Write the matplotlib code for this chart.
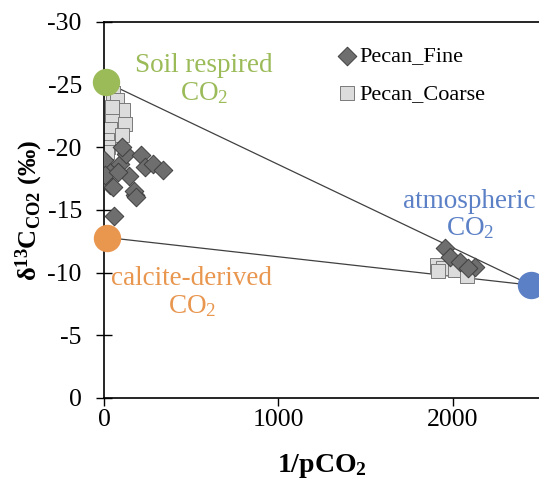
import numpy as np
import matplotlib
matplotlib.use("Agg")
import matplotlib.pyplot as plt

plt.rcParams['font.family'] = ['Liberation Serif', 'DejaVu Serif']
plt.rcParams['mathtext.fontset'] = 'custom'
plt.rcParams['mathtext.rm'] = 'Liberation Serif'
plt.rcParams['mathtext.bf'] = 'Liberation Serif:bold'
plt.rcParams['mathtext.it'] = 'Liberation Serif:italic'
plt.rcParams['axes.unicode_minus'] = False

# Pecan_Fine (diamonds)
fine_x = [57, 178, 170, 183, 143, 34, 52, 23, 92, 126, 212, 235, 281, 338, 0, 6, 80, 103,
          1954, 1983, 2040, 2126, 2086]
fine_y = [-14.5, -16.2, -16.5, -16.0, -17.7, -17.0, -16.8, -18.2, -18.7, -19.5, -19.4, -18.4,
          -18.7, -18.2, -19.0, -17.8, -18.0, -20.0,
          -12.0, -11.25, -10.85, -10.45, -10.4]

# Pecan_Coarse (squares)
coarse_x = [52, 75, 109, 46, 120, 34, 103, 17, 23, 17, 46,
            1908, 1943, 2011, 2080, 1914]
coarse_y = [-24.3, -23.8, -23.0, -22.6, -21.9, -21.5, -21.0, -20.6, -20.0, -19.6, -23.2,
            -10.6, -10.4, -10.2, -9.7, -10.1]

# end members
soil_x, soil_y = 10, -25.2
calcite_x, calcite_y = 20, -12.8
atm_x, atm_y = 2450, -9.0

green = '#9BBB59'
orange = '#E9964F'
blue = '#5B80C6'

fig = plt.figure(figsize=(5.39, 4.83), dpi=100)
ax = fig.add_axes([104 / 539, 1 - 398 / 483, 436 / 539, 376 / 483])

# mixing lines
ax.plot([soil_x, atm_x], [soil_y, atm_y], color='#404040', lw=0.9, zorder=1)
ax.plot([calcite_x, atm_x], [calcite_y, atm_y], color='#404040', lw=0.9, zorder=1)

ax.scatter(fine_x, fine_y, marker='D', s=90, color='#6E6E6E', edgecolor='#404040',
           linewidth=0.7, label='Pecan_Fine', zorder=3)
ax.scatter(coarse_x, coarse_y, marker='s', s=115, color='#DCDCDC', edgecolor='#7A7A7A',
           linewidth=0.7, label='Pecan_Coarse', zorder=2)

ax.scatter([soil_x], [soil_y], s=350, color=green, zorder=4, clip_on=False)
ax.scatter([calcite_x], [calcite_y], s=350, color=orange, zorder=4, clip_on=False)
ax.scatter([atm_x], [atm_y], s=350, color=blue, zorder=4, clip_on=False)

ax.text(573, -25.4, 'Soil respired\nCO$_2$', color=green, fontsize=19.5, ha='center',
        va='center', linespacing=1.15)
ax.text(504, -8.4, 'calcite-derived\nCO$_2$', color=orange, fontsize=19.5, ha='center',
        va='center', linespacing=1.1)
ax.text(2097, -14.6, 'atmospheric\nCO$_2$', color=blue, fontsize=19.5, ha='center',
        va='center', linespacing=1.1)

ax.set_xlim(0, 2500)
ax.set_ylim(0, -30)
ax.set_xticks([0, 1000, 2000])
ax.set_yticks(np.arange(0, -31, -5))
ax.tick_params(axis='y', direction='inout', length=12, width=1, labelsize=18.5, pad=10)
ax.tick_params(axis='x', direction='out', length=6, width=1, labelsize=18.5, pad=2)
for sp in ax.spines.values():
    sp.set_linewidth(1.2)

ax.set_xlabel('1/pCO$_\\mathbf{2}$', fontsize=20, fontweight='bold', labelpad=15)
ax.set_ylabel('$\\mathbf{\\delta^{13}C_{CO2}}$ (‰)', fontsize=19, fontweight='bold', labelpad=2)

ax.legend(loc='upper left', bbox_to_anchor=(336 / 539, 1 - 46 / 483),
          bbox_transform=fig.transFigure, frameon=False, fontsize=16,
          handletextpad=0.05, borderpad=0, borderaxespad=0, labelspacing=0.75,
          handlelength=1.0, markerscale=1.0)

fig.savefig('out.png', dpi=100)
